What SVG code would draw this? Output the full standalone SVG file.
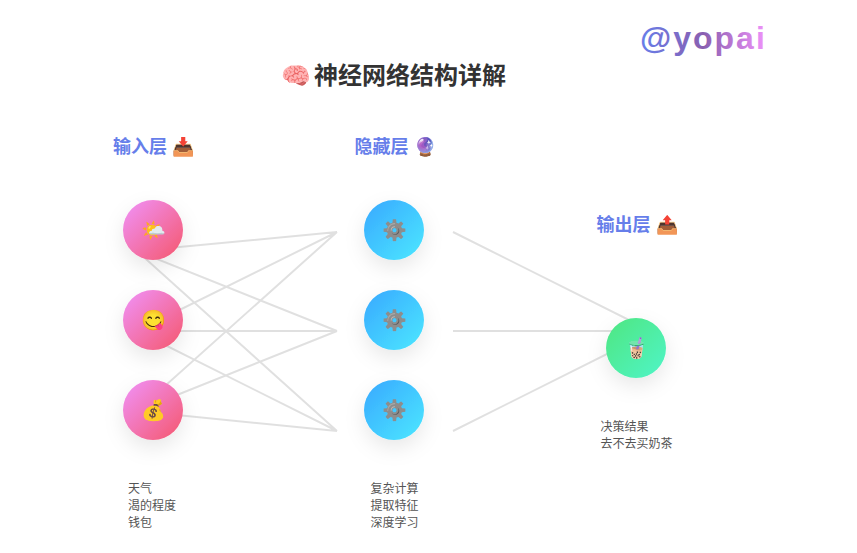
<svg xmlns="http://www.w3.org/2000/svg" width="857" height="553" viewBox="0 0 857 553">
<style>
text{font-family:"Liberation Sans","Noto Sans CJK SC",sans-serif}
.h{font-size:18px;font-weight:700;fill:#667eea}
.t{font-size:12px;fill:#555}
.e{font-size:20px;text-anchor:middle}
.c{stroke:#000;stroke-opacity:.12;stroke-width:2;fill:none}
</style>
<defs>
<linearGradient id="p" x1="0" y1="0" x2="1" y2="1"><stop offset="0" stop-color="#f093fb"/><stop offset="1" stop-color="#f5576c"/></linearGradient>
<linearGradient id="b" x1="0" y1="0" x2="1" y2="1"><stop offset="0" stop-color="#38a8ff"/><stop offset="1" stop-color="#4ce8ff"/></linearGradient>
<linearGradient id="g" x1="0" y1="0" x2="1" y2="1"><stop offset="0" stop-color="#4fe680"/><stop offset="1" stop-color="#50f5c8"/></linearGradient>
<linearGradient id="w" x1="640" y1="0" x2="767" y2="0" gradientUnits="userSpaceOnUse"><stop offset="0" stop-color="#667eea"/><stop offset=".5" stop-color="#8a5fb0"/><stop offset="1" stop-color="#f093fb"/></linearGradient>
<filter id="s" x="-60%" y="-60%" width="220%" height="220%"><feDropShadow dx="0" dy="8" stdDeviation="10" flood-color="#000" flood-opacity=".09"/></filter>
<filter id="gear" x="-10%" y="-10%" width="120%" height="120%"><feColorMatrix type="matrix" values=".2 .4 .1 0 0 .2 .4 .1 0 0 .2 .4 .1 0 0 0 0 0 1 0"/></filter>
</defs>
<text id="brand" x="640" y="49" font-size="32" font-weight="700" letter-spacing="2" fill="url(#w)">@yopai</text>
<g id="title"><text x="281" y="84" font-size="24" font-weight="700" fill="#333">🧠</text><text x="314" y="84" font-size="24" font-weight="700" fill="#333">神经网络结构详解</text></g>
<text class="h" x="113" y="153">输入层 📥</text>
<text class="h" x="354.5" y="153">隐藏层 🔮</text>
<text class="h" x="596.5" y="231">输出层 📤</text>
<g id="connectors">
<path class="c" d="M137 251L337 232M137 251L337 331M137 251L337 431M137 331L337 232M137 331H337M137 331L337 431M137 411L337 232M137 411L337 331M137 411L337 431M453 232L653 332M453 331H653M453 431L653 331"/>
</g>
<g id="n1" filter="url(#s)"><circle cx="153" cy="230" r="30" fill="url(#p)"/><text class="e" x="153" y="237">🌤️</text></g>
<g id="n2" filter="url(#s)"><circle cx="153" cy="320" r="30" fill="url(#p)"/><text class="e" x="153" y="327">😋</text></g>
<g id="n3" filter="url(#s)"><circle cx="153" cy="410" r="30" fill="url(#p)"/><text class="e" x="153" y="417">💰</text></g>
<g id="n4" filter="url(#s)"><circle cx="394" cy="230" r="30" fill="url(#b)"/><text class="e" x="394" y="237" filter="url(#gear)">⚙️</text></g>
<g id="n5" filter="url(#s)"><circle cx="394" cy="320" r="30" fill="url(#b)"/><text class="e" x="394" y="327" filter="url(#gear)">⚙️</text></g>
<g id="n6" filter="url(#s)"><circle cx="394" cy="410" r="30" fill="url(#b)"/><text class="e" x="394" y="417" filter="url(#gear)">⚙️</text></g>
<g id="n7" filter="url(#s)"><circle cx="636" cy="348" r="30" fill="url(#g)"/><text class="e" x="636" y="355">🧋</text></g>
<text class="t" x="128" y="493">天气</text><text class="t" x="128" y="510">渴的程度</text><text class="t" x="128" y="527">钱包</text>
<text class="t" x="370.5" y="493">复杂计算</text><text class="t" x="370.5" y="510">提取特征</text><text class="t" x="370.5" y="527">深度学习</text>
<text class="t" x="600.5" y="431">决策结果</text><text class="t" x="600.5" y="448">去不去买奶茶</text>
</svg>
